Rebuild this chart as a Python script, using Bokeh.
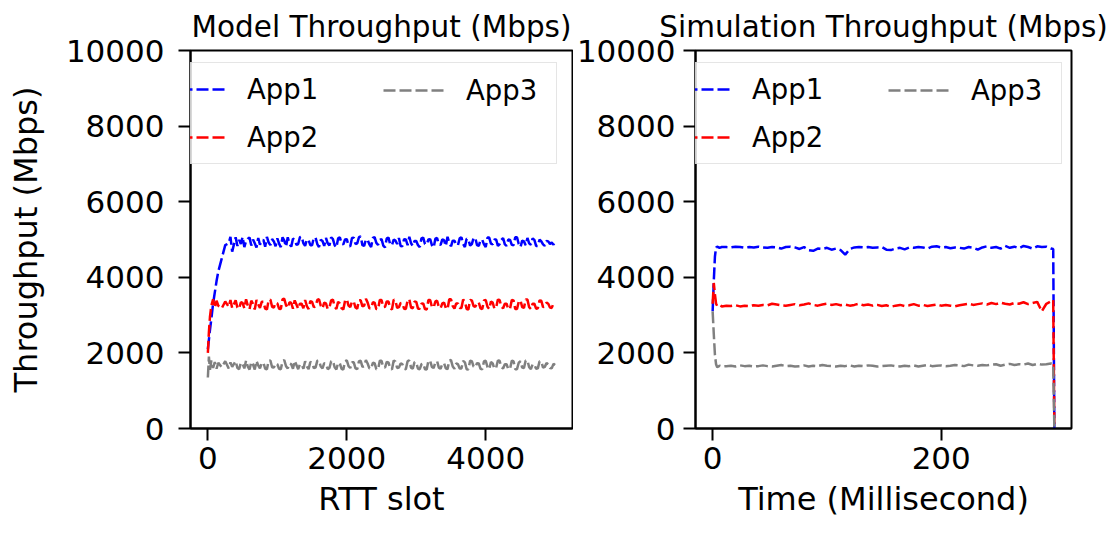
from bokeh.plotting import figure
from bokeh.models import Legend, LegendItem, FixedTicker, Range1d
from bokeh.layouts import row
from bokeh.embed import file_html
from bokeh.resources import INLINE

# ---------------- data ----------------
model_slot = [0, 15, 30, 50, 75, 100, 125, 150, 200, 250, 300, 325, 350] + list(range(400, 5000, 25)) + [4999]

model_app1 = [2100, 2350, 2600, 2900, 3300, 3600, 3900, 4150, 4500, 4850, 4900, 5070, 4680,
              5060, 4830, 4990, 4880, 5070, 4800, 4960, 5020, 5050, 4840,
              5000, 4900, 4790, 5040, 4860, 4970, 4990, 4810, 5070, 4920,
              4850, 5010, 4950, 4820, 5030, 4890, 4800, 5060, 4970, 4810,
              5060, 4880, 4810, 5020, 5000, 4860, 4880, 5060, 5080, 4900,
              4830, 5000, 4980, 4850, 4850, 5040, 5050, 4880, 4800, 4990,
              4960, 4830, 5040, 4900, 4840, 5060, 5010, 4850, 4790, 5030,
              5060, 4890, 4870, 5000, 5010, 4830, 4820, 5040, 5050, 4880,
              4900, 5060, 5080, 4850, 4830, 5000, 4990, 4870, 4800, 5040,
              5060, 4910, 4860, 4990, 5010, 4840, 4790, 5030, 5050, 4870,
              4850, 5000, 4970, 4880, 5040, 4830, 4820, 5010, 5000, 4850,
              5070, 4900, 4830, 4960, 4960, 4850, 4800, 5030, 5050, 4880,
              4870, 5000, 5010, 4850, 4790, 5020, 5040, 4870, 4860, 5000,
              4980, 4830, 5070, 4910, 4820, 4970, 4970, 4860, 4850, 5030,
              5060, 4880, 4800, 5020, 5000, 4840, 4880, 5040, 5040, 4850,
              4830, 4990, 4990, 4870, 4800, 5050, 5050, 4890, 4870, 5000,
              5000, 4830, 4880, 4990, 5040, 4870, 4830, 5000, 4990, 4860,
              4850, 5060, 5060, 4880, 4800, 4970, 4950, 4850, 5040, 4900,
              4860, 5030, 4990, 4830, 4830, 5000, 4950, 4870, 4830, 4960,
              4950, 4880, 4920, 4860, 4950]

model_app2 = [2000, 2550, 2950, 3250, 3420, 3200, 3380, 3250, 3180, 3360, 3220, 3400, 3190,
              3390, 3200, 3170, 3340, 3320, 3180, 3420, 3250, 3160, 3380,
              3300, 3150, 3400, 3280, 3190, 3350, 3350, 3170, 3150, 3390,
              3410, 3220, 3200, 3330, 3310, 3170, 3160, 3420, 3430, 3260,
              3190, 3340, 3320, 3170, 3390, 3280, 3170, 3300, 3300, 3180,
              3400, 3240, 3160, 3370, 3350, 3210, 3230, 3400, 3420, 3250,
              3180, 3330, 3310, 3160, 3200, 3390, 3410, 3230, 3160, 3350,
              3310, 3180, 3150, 3380, 3420, 3250, 3210, 3360, 3360, 3200,
              3170, 3390, 3390, 3230, 3250, 3430, 3330, 3180, 3180, 3340,
              3330, 3160, 3160, 3400, 3400, 3210, 3220, 3360, 3360, 3180,
              3150, 3410, 3380, 3190, 3210, 3320, 3310, 3170, 3160, 3390,
              3420, 3200, 3180, 3360, 3350, 3170, 3170, 3300, 3310, 3160,
              3150, 3400, 3400, 3220, 3200, 3360, 3380, 3210, 3180, 3310,
              3330, 3190, 3160, 3420, 3420, 3240, 3170, 3310, 3310, 3190,
              3190, 3410, 3360, 3160, 3150, 3400, 3390, 3240, 3220, 3330,
              3330, 3180, 3160, 3390, 3400, 3220, 3160, 3360, 3330, 3170,
              3200, 3410, 3400, 3220, 3180, 3300, 3300, 3160, 3170, 3400,
              3390, 3160, 3160, 3350, 3390, 3210, 3190, 3410, 3410, 3210,
              3160, 3300, 3300, 3170, 3180, 3390, 3380, 3210, 3230, 3330,
              3300, 3200, 3190, 3310, 3290]

model_app3 = [1350, 1900, 1550, 1800, 1600, 1760, 1580, 1740, 1620, 1780, 1590, 1750, 1630,
              1780, 1600, 1570, 1740, 1710, 1590, 1800, 1640, 1560, 1760,
              1690, 1560, 1790, 1670, 1590, 1730, 1740, 1580, 1570, 1790,
              1800, 1620, 1610, 1720, 1700, 1580, 1570, 1780, 1810, 1650,
              1590, 1720, 1700, 1580, 1790, 1680, 1570, 1700, 1690, 1580,
              1780, 1640, 1570, 1760, 1740, 1600, 1610, 1790, 1800, 1640,
              1590, 1730, 1710, 1570, 1600, 1780, 1790, 1620, 1560, 1740,
              1720, 1580, 1560, 1780, 1800, 1650, 1600, 1750, 1750, 1590,
              1570, 1780, 1790, 1630, 1650, 1810, 1720, 1590, 1580, 1740,
              1730, 1570, 1560, 1790, 1790, 1620, 1610, 1760, 1750, 1590,
              1560, 1800, 1770, 1600, 1610, 1720, 1700, 1580, 1570, 1780,
              1800, 1610, 1580, 1760, 1740, 1580, 1570, 1700, 1720, 1570,
              1560, 1790, 1790, 1630, 1600, 1750, 1780, 1610, 1580, 1710,
              1730, 1590, 1570, 1800, 1810, 1640, 1580, 1720, 1700, 1590,
              1590, 1790, 1750, 1570, 1560, 1790, 1780, 1640, 1620, 1730,
              1720, 1580, 1570, 1780, 1790, 1630, 1570, 1760, 1720, 1580,
              1610, 1800, 1790, 1620, 1590, 1700, 1700, 1570, 1580, 1790,
              1780, 1570, 1570, 1740, 1780, 1610, 1600, 1800, 1800, 1620,
              1570, 1700, 1690, 1580, 1590, 1780, 1770, 1610, 1630, 1730,
              1700, 1600, 1590, 1710, 1680]

sim_ms = [0, 1, 2, 3, 4, 6, 8] + list(range(12, 297, 4)) + [298, 299]

sim_app1 = [3100, 3900, 4550, 4790, 4810, 4780, 4800,
            4800, 4790, 4810, 4800, 4780, 4800, 4790, 4810,
            4790, 4780, 4800, 4790, 4760, 4800, 4810, 4790,
            4750, 4800, 4720, 4700, 4760, 4750, 4780, 4730,
            4760, 4720, 4600, 4750, 4790, 4800, 4790, 4800,
            4780, 4790, 4800, 4730, 4720, 4760, 4780, 4740,
            4790, 4780, 4800, 4790, 4760, 4810, 4820, 4790,
            4800, 4770, 4790, 4780, 4760, 4800, 4780, 4730,
            4790, 4820, 4780, 4800, 4760, 4830, 4780, 4810,
            4770, 4830, 4800, 4760, 4820, 4800, 4810, 4760,
            4750, 0]

sim_app2 = [3300, 3850, 3550, 3300, 3240, 3270, 3230,
            3250, 3240, 3260, 3230, 3250, 3240, 3260, 3250,
            3270, 3260, 3300, 3280, 3260, 3250, 3270, 3290,
            3260, 3280, 3310, 3270, 3250, 3280, 3300, 3270,
            3290, 3260, 3280, 3250, 3270, 3300, 3260, 3280,
            3250, 3270, 3240, 3260, 3220, 3250, 3270, 3240,
            3260, 3290, 3250, 3270, 3240, 3260, 3280, 3250,
            3270, 3250, 3230, 3260, 3280, 3300, 3270, 3290,
            3310, 3280, 3320, 3290, 3330, 3300, 3280, 3320,
            3300, 3340, 3290, 3320, 3350, 3100, 3300, 3360,
            3400, 0]

sim_app3 = [3100, 2500, 1950, 1700, 1620, 1660, 1640,
            1650, 1660, 1640, 1670, 1650, 1660, 1640, 1650,
            1670, 1650, 1640, 1660, 1680, 1650, 1660, 1640,
            1650, 1670, 1640, 1660, 1650, 1680, 1660, 1650,
            1640, 1660, 1650, 1670, 1640, 1660, 1650, 1670,
            1660, 1640, 1650, 1660, 1670, 1650, 1640, 1660,
            1650, 1670, 1640, 1660, 1680, 1650, 1660, 1670,
            1650, 1660, 1680, 1670, 1650, 1690, 1670, 1660,
            1680, 1670, 1690, 1700, 1660, 1690, 1710, 1680,
            1700, 1690, 1720, 1680, 1710, 1690, 1700, 1720,
            1700, 0]

series_labels = ["App1", "App2", "App3"]
series_colors = ["blue", "red", "gray"]
y_ticks = [0, 2000, 4000, 6000, 8000, 10000]
model_x_ticks = [0, 2000, 4000]
sim_x_ticks = [0, 200]

FONT = "DejaVu Sans"


def style(p, xticks, ylabel, xlabel, ylabel_standoff):
    p.title.text_font = FONT
    p.title.text_font_size = "29.5px"
    p.title.text_font_style = "normal"
    p.title.text_color = "black"
    p.title.align = "center"
    p.title.standoff = 14
    p.outline_line_color = "black"
    p.outline_line_width = 2
    p.outline_line_alpha = 1
    p.xgrid.visible = False
    p.ygrid.visible = False
    for ax in p.axis:
        ax.axis_line_color = "black"
        ax.axis_line_width = 2
        ax.major_tick_line_color = "black"
        ax.major_tick_line_width = 2
        ax.major_tick_out = 12
        ax.major_tick_in = 0
        ax.minor_tick_out = 0
        ax.minor_tick_in = 0
        ax.major_label_text_font = FONT
        ax.major_label_text_font_size = "31px"
        ax.major_label_text_color = "black"
        ax.axis_label_text_font = FONT
        ax.axis_label_text_font_size = "32px"
        ax.axis_label_text_font_style = "normal"
        ax.axis_label_text_color = "black"
    p.xaxis.ticker = FixedTicker(ticks=xticks)
    p.yaxis.ticker = FixedTicker(ticks=y_ticks)
    p.xaxis.major_label_standoff = 6
    p.xaxis.axis_label_standoff = 8
    p.yaxis.major_label_standoff = ylabel_standoff
    p.yaxis.axis_label_standoff = 18
    if ylabel:
        p.yaxis.axis_label = ylabel
    p.xaxis.axis_label = xlabel


def add_legend(p, renderers):
    common = dict(
        orientation="vertical",
        label_text_font=FONT,
        label_text_font_size="27.5px",
        label_text_color="black",
        glyph_width=61,
        glyph_height=32,
        label_height=32,
        label_standoff=22,
        spacing=16,
        padding=10,
        margin=0,
    )
    leg_a = Legend(
        items=[LegendItem(label=series_labels[0], renderers=[renderers[0]]),
               LegendItem(label=series_labels[1], renderers=[renderers[1]])],
        location=(-37, 264),
        label_width=299,
        border_line_color="#cccccc",
        border_line_width=1.5,
        background_fill_color="white",
        background_fill_alpha=0.8,
        **common,
    )
    leg_b = Legend(
        items=[LegendItem(label=series_labels[2], renderers=[renderers[2]])],
        location=(183, 312),
        border_line_alpha=0,
        background_fill_alpha=0,
        **common,
    )
    p.add_layout(leg_a)
    p.add_layout(leg_b)


def lines(p, x, ys, lw):
    rs = []
    for y, c in zip(ys, series_colors):
        rs.append(p.line(x, y, line_color=c, line_width=lw, line_dash="12 4"))
    return rs


p1 = figure(width=573, height=531, x_range=Range1d(-250, 5249), y_range=Range1d(0, 10000),
            output_backend="svg", toolbar_location=None, tools="",
            min_border_left=190, min_border_right=1, min_border_top=50, min_border_bottom=103,
            title="Model Throughput (Mbps)")
r1 = lines(p1, model_slot, [model_app1, model_app2, model_app3], 2.5)
style(p1, model_x_ticks, "Throughput (Mbps)", "RTT slot", 14)
add_legend(p1, r1)

p2 = figure(width=540, height=531, x_range=Range1d(-15, 314), y_range=Range1d(0, 10000),
            output_backend="svg", toolbar_location=None, tools="",
            min_border_left=119, min_border_right=42, min_border_top=50, min_border_bottom=103,
            title="Simulation Throughput (Mbps)")
r2 = lines(p2, sim_ms, [sim_app1, sim_app2, sim_app3], 2.5)
style(p2, sim_x_ticks, None, "Time (Millisecond)", 8)
add_legend(p2, r2)

layout = row(p1, p2, spacing=0)
open("out.html", "w").write(file_html(layout, INLINE))
